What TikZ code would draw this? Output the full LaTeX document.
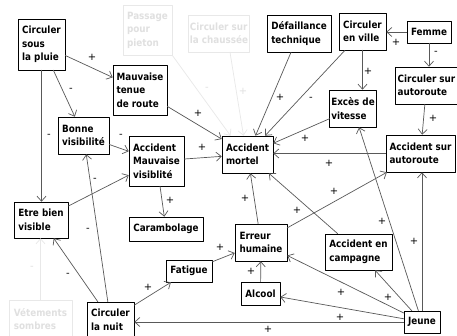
\documentclass[tikz,border=0pt]{standalone}
\usepackage{fontspec}
\usetikzlibrary{arrows.meta,shadows}
\newfontfamily\boxfont[FakeStretch=0.88]{DejaVu Sans Bold}
\newfontfamily\signfont{DejaVu Sans}
\tikzset{
	boxdim/.style 2 args={minimum width=#1pt,minimum height=#2pt},
	concept/.style={draw=black,line width=0.6pt,fill=white,align=left,inner xsep=1.5pt,inner ysep=2pt,
		font=\boxfont\fontsize{10}{13.5}\selectfont,
		drop shadow={shadow xshift=0.8pt,shadow yshift=-0.8pt,fill=black!35,opacity=1}},
	ghost/.style={draw=black!9,line width=0.6pt,fill=white,align=left,inner xsep=1.5pt,inner ysep=2pt,
		text=black!12,font=\boxfont\fontsize{10}{13.5}\selectfont},
	link/.style={draw=black!65,line width=0.7pt,-{Straight Barb[length=5pt,width=9pt]}},
	faint/.style={link,draw=black!9},
	sign/.style={font=\signfont\fontsize{10}{12}\selectfont,inner sep=0pt},
	fsign/.style={sign,text=black!12}
}
\begin{document}
\begin{tikzpicture}[x=1pt,y=-1pt,line join=round,line cap=round]
		\useasboundingbox[fill=white] (0,0) rectangle (457,336);
		% faded concepts
		\node[ghost,boxdim={49}{50}] (pieton) at (147.5,30) {Passage\\pour\\pieton};
		\node[ghost,boxdim={58}{37}] (chaussee) at (219,33.5) {Circuler sur\\la chaussée};
		\node[ghost,boxdim={63}{38}] (sombres) at (40.5,319) {Vétements\\sombres};
		% concepts
		\node[concept,boxdim={47}{51}] (pluie) at (41.5,44.5) {Circuler\\sous\\la pluie};
		\node[concept,boxdim={54}{50}] (tenue) at (140,90) {Mauvaise\\tenue\\de route};
		\node[concept,boxdim={64}{37}] (defaut) at (299,33.5) {Défaillance\\technique};
		\node[concept,boxdim={47}{37}] (ville) at (362.5,31.5) {Circuler\\en ville};
		\node[concept,boxdim={44}{22}] (femme) at (429,32) {Femme};
		\node[concept,boxdim={63}{37}] (csauto) at (426.5,85.5) {Circuler sur\\autoroute};
		\node[concept,boxdim={42}{37}] (vitesse) at (353,108.5) {Excès de\\vitesse};
		\node[concept,boxdim={69}{37}] (asauto) at (420.5,153.5) {Accident sur\\autoroute};
		\node[concept,boxdim={51}{37}] (mortel) at (247.5,154.5) {Accident\\mortel};
		\node[concept,boxdim={51}{37}] (bonne) at (83.5,135.5) {Bonne\\visibilité};
		\node[concept,boxdim={55}{50}] (amv) at (156.5,161) {Accident\\Mauvaise\\visiblité};
		\node[concept,boxdim={74}{24}] (caramb) at (166,229) {Carambolage};
		\node[concept,boxdim={54}{36}] (visible) at (41,220) {Etre bien\\visible};
		\node[concept,boxdim={46}{22}] (fatigue) at (189,271) {Fatigue};
		\node[concept,boxdim={47}{36}] (nuit) at (110.5,320) {Circuler\\la nuit};
		\node[concept,boxdim={52}{37}] (erreur) at (261,242.5) {Erreur\\humaine};
		\node[concept,boxdim={67}{36}] (campagne) at (358.5,252) {Accident en\\campagne};
		\node[concept,boxdim={39}{23}] (alcool) at (260.5,293.5) {Alcool};
		\node[concept,boxdim={36}{22}] (jeune) at (422,322) {Jeune};
		% faded links
		\draw[faint] (pieton.south east) -- ([xshift=-17pt]mortel.north) node[fsign] (f1) at (207,89) {-};
		\draw[faint] ([xshift=11pt]chaussee.south) -- ([xshift=-4pt]mortel.north) node[fsign] (f2) at (243,91) {+};
		\draw[faint] (sombres.north) -- (sombres.north |- visible.south) node[fsign] (f3) at (32,268) {-};
		% links
		\draw[link] (pluie) -- (tenue) node[sign] (s1) at (92,57) {+};
		\draw[link] (pluie) -- (bonne) node[sign] (s2) at (71,90) {-};
		\draw[link] (pluie.south) -- (pluie.south |- visible.north) node[sign] (s3) at (49,136) {-};
		\draw[link] (tenue) -- (mortel) node[sign] (s4) at (198,113) {+};
		\draw[link] (bonne) -- (amv) node[sign] (s5) at (121,136) {-};
		\draw[link] (amv) -- (mortel) node[sign] (s6) at (202,147) {+};
		\draw[link] (amv) -- (caramb) node[sign] (s7) at (170,200) {+};
		\draw[link] (visible) -- (amv) node[sign] (s8) at (95,180) {-};
		\draw[link] (nuit) -- (visible) node[sign] (s9) at (68,275) {-};
		\draw[link] (nuit) -- (bonne) node[sign] (s10) at (88,230) {-};
		\draw[link] (nuit) -- (fatigue) node[sign] (s11) at (148,287) {+};
		\draw[link] (fatigue) -- (erreur) node[sign] (s12) at (220,247) {+};
		\draw[link] (alcool) -- (erreur) node[sign] (s13) at (251,271) {+};
		\draw[link] (erreur) -- (mortel) node[sign] (s14) at (245,198) {+};
		\draw[link] (erreur) -- (asauto) node[sign] (s15) at (334,191) {+};
		\draw[link] (campagne) -- (mortel) node[sign] (s16) at (297,210) {+};
		\draw[link] (jeune) -- (erreur) node[sign] (s17) at (341,292) {+};
		\draw[link] (jeune) -- (alcool) node[sign] (s18) at (340,317) {+};
		\draw[link] (jeune.west) -- (jeune.west -| nuit.east) node[sign] (s19) at (268,329) {+};
		\draw[link] (jeune) -- (campagne) node[sign] (s20) at (388,297) {+};
		\draw[link] (jeune) -- (vitesse) node[sign] (s21) at (382,221) {+};
		\draw[link] (jeune.north) -- (jeune.north |- asauto.south) node[sign] (s22) at (414,241) {+};
		\draw[link] (defaut) -- (mortel) node[sign] (s23) at (280,97) {+};
		\draw[link] (ville) -- (mortel) node[sign] (s24) at (311,99) {-};
		\draw[link] (vitesse) -- (mortel) node[sign] (s25) at (305,138) {+};
		\draw[link] (asauto.west) -- (asauto.west -| mortel.east) node[sign] (s26) at (329,163) {+};
		\draw[link] (ville.south) -- (ville.south |- vitesse.north) node[sign] (s27) at (368,71) {+};
		\draw[link] (femme.west) -- (femme.west -| ville.east) node[sign] (s28) at (396,42) {+};
		\draw[link] (femme.south) -- (femme.south |- csauto.north) node[sign] (s29) at (436,53) {-};
		\draw[link] (csauto) -- (asauto) node[sign] (s30) at (433,118) {+};
		\end{tikzpicture}
\end{document}
